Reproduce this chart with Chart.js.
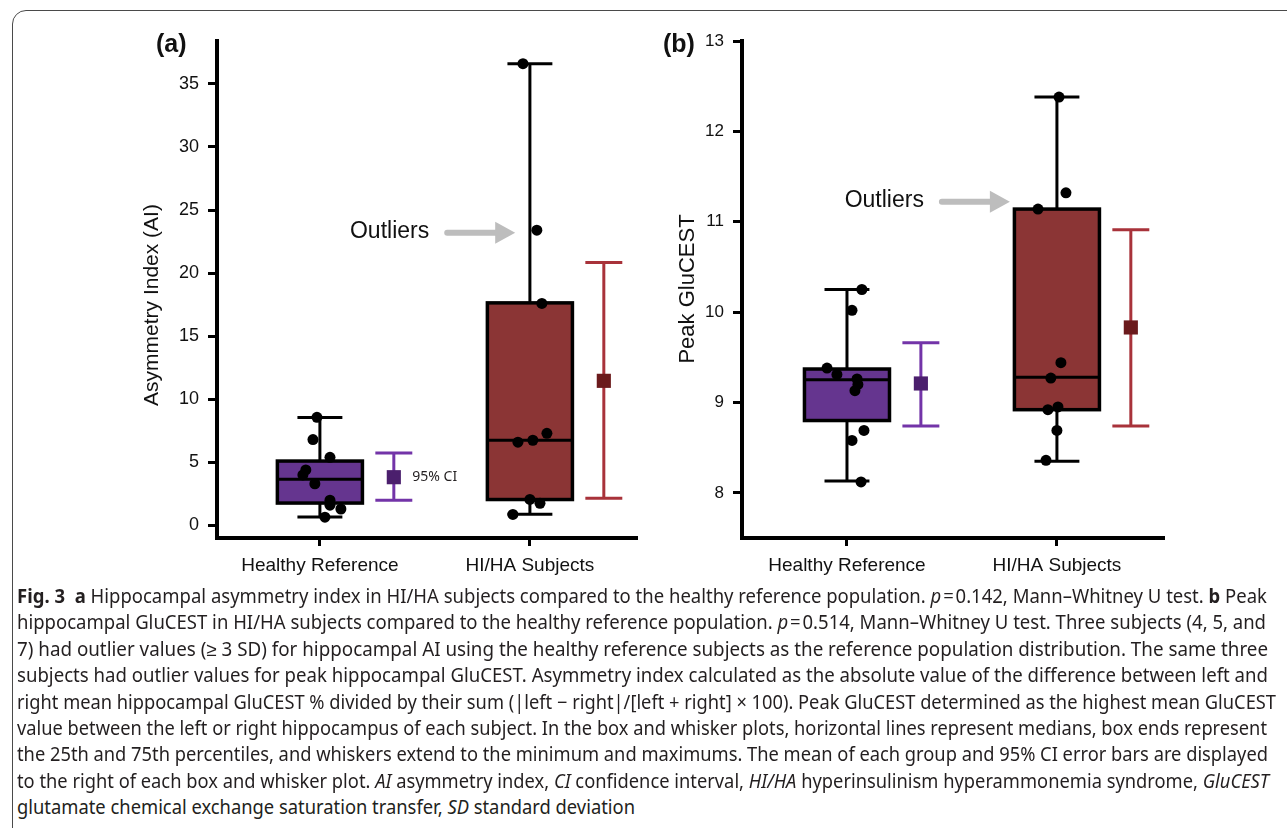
<!DOCTYPE html>
<html>
<head>
<meta charset="utf-8">
<script src="https://cdn.jsdelivr.net/npm/chart.js@4.4.1/dist/chart.umd.min.js"></script>
<style>
  html, body { margin: 0; padding: 0; background: #fff; }
  body { width: 1287px; height: 828px; position: relative; overflow: hidden; }
  .frame { position: absolute; left: 12px; top: 10px; width: 1320px; height: 860px;
           border: 1.5px solid #4a4a4a; border-radius: 14px; }
  canvas { position: absolute; top: 0; }
  #chartA { left: 0; }
  #chartB { left: 650px; }
  .cap { position: absolute; left: 17px; white-space: nowrap; font-family: 'Noto Sans', sans-serif;
         font-size: 19px; line-height: 24px; color: #231f20; transform-origin: 0 0; }
  .cap b { font-weight: 700; }
</style>
</head>
<body>
<div class="frame"></div>
<canvas id="chartA" width="650" height="590"></canvas>
<canvas id="chartB" width="637" height="590"></canvas>

<div class="cap" style="top:584px" data-end="1267"><b>Fig. 3</b>&nbsp; <b>a</b> Hippocampal asymmetry index in HI/HA subjects compared to the healthy reference population. <i>p</i>&#8202;=&#8202;0.142, Mann–Whitney U test. <b>b</b> Peak</div>
<div class="cap" style="top:610px" data-end="1266">hippocampal GluCEST in HI/HA subjects compared to the healthy reference population. <i>p</i>&#8202;=&#8202;0.514, Mann–Whitney U test. Three subjects (4, 5, and</div>
<div class="cap" style="top:637px" data-end="1268">7) had outlier values (≥ 3 SD) for hippocampal AI using the healthy reference subjects as the reference population distribution. The same three</div>
<div class="cap" style="top:663px" data-end="1268">subjects had outlier values for peak hippocampal GluCEST. Asymmetry index calculated as the absolute value of the difference between left and</div>
<div class="cap" style="top:690px" data-end="1276">right mean hippocampal GluCEST % divided by their sum (|left − right|/[left + right] × 100). Peak GluCEST determined as the highest mean GluCEST</div>
<div class="cap" style="top:716px" data-end="1267">value between the left or right hippocampus of each subject. In the box and whisker plots, horizontal lines represent medians, box ends represent</div>
<div class="cap" style="top:742px" data-end="1268">the 25th and 75th percentiles, and whiskers extend to the minimum and maximums. The mean of each group and 95% CI error bars are displayed</div>
<div class="cap" style="top:769px" data-end="1269">to the right of each box and whisker plot. <i>AI</i> asymmetry index, <i>CI</i> confidence interval, <i>HI/HA</i> hyperinsulinism hyperammonemia syndrome, <i>GluCEST</i></div>
<div class="cap" style="top:795px" data-end="635">glutamate chemical exchange saturation transfer, <i>SD</i> standard deviation</div>

<script>
const groups = ['Healthy Reference', 'HI/HA Subjects'];

// (a) asymmetry index
const aiTicks = [0, 5, 10, 15, 20, 25, 30, 35];
const aiHealthy = [8.57, 6.8, 5.4, 4.4, 4.0, 3.3, 2.0, 1.6, 1.3, 0.65];
const aiHealthyJitter = [-0.014, -0.033, 0.048, -0.067, -0.081, -0.024, 0.048, 0.048, 0.1, 0.024];
const aiHiha = [36.6, 23.4, 17.6, 7.3, 6.75, 6.6, 2.06, 1.75, 0.87];
const aiHihaJitter = [-0.033, 0.033, 0.057, 0.081, 0.014, -0.057, 0, 0.048, -0.081];
const aiMin = [0.66, 0.88];
const aiQ1 = [1.77, 2.05];
const aiMedian = [3.65, 6.75];
const aiQ3 = [5.1, 17.64];
const aiMax = [8.55, 36.6];
const aiMean = [3.82, 11.46];
const aiCiLow = [1.99, 2.15];
const aiCiHigh = [5.73, 20.84];

// (b) peak GluCEST
const gcTicks = [8, 9, 10, 11, 12, 13];
const gcHealthy = [10.25, 10.02, 9.38, 9.31, 9.26, 9.2, 9.13, 8.69, 8.58, 8.12];
const gcHealthyJitter = [0.071, 0.024, -0.095, -0.048, 0.048, 0.052, 0.038, 0.081, 0.024, 0.067];
const gcHiha = [12.38, 11.32, 11.14, 9.44, 9.27, 8.95, 8.92, 8.69, 8.36];
const gcHihaJitter = [0.01, 0.043, -0.09, 0.019, -0.029, 0.005, -0.043, 0, -0.052];
const gcMin = [8.13, 8.35];
const gcQ1 = [8.8, 8.92];
const gcMedian = [9.25, 9.28];
const gcQ3 = [9.37, 11.14];
const gcMax = [10.25, 12.38];
const gcMean = [9.21, 9.83];
const gcCiLow = [8.74, 8.74];
const gcCiHigh = [9.66, 10.91];

// look
const boxFill = ['#65358f', '#8b3535'];
const meanColor = ['#4b1f6d', '#6b1a1c'];
const ciColor = ['#7334a8', '#a8323a'];
const BOX_HALF = 0.2025;
const CAP_HALF = 0.107;
const MEAN_OFFSET = 0.352;
const CI_CAP_HALF = 0.088;
const AXIS_FONT = 'Liberation Sans, Arial, sans-serif';

function seg(ctx, x1, y1, x2, y2) {
    ctx.beginPath();
    ctx.moveTo(x1, y1);
    ctx.lineTo(x2, y2);
    ctx.stroke();
}

// box, whiskers and CI bars, placed with the chart's own scales
function boxPlugin(s) {
    return {
        id: 'boxWhisker',
        beforeDatasetsDraw(chart) {
            const { ctx, scales: { x, y } } = chart;
            ctx.save();
            for (let i = 0; i < 2; i++) {
                const xc = x.getPixelForValue(i);
                const bw = x.getPixelForValue(i + BOX_HALF) - xc;
                const cw = x.getPixelForValue(i + CAP_HALF) - xc;
                const yMin = y.getPixelForValue(s.min[i]);
                const yMax = y.getPixelForValue(s.max[i]);
                ctx.strokeStyle = '#000';
                ctx.lineWidth = 3;
                seg(ctx, xc, yMin, xc, yMax);
                seg(ctx, xc - cw, yMin, xc + cw, yMin);
                seg(ctx, xc - cw, yMax, xc + cw, yMax);

                const top = y.getPixelForValue(s.q3[i]);
                const bot = y.getPixelForValue(s.q1[i]);
                ctx.fillStyle = boxFill[i];
                ctx.fillRect(xc - bw, top, 2 * bw, bot - top);
                ctx.lineWidth = 3.5;
                ctx.strokeRect(xc - bw, top, 2 * bw, bot - top);
                const ym = y.getPixelForValue(s.median[i]);
                ctx.lineWidth = 3;
                seg(ctx, xc - bw, ym, xc + bw, ym);

                // 95% CI
                const xm = x.getPixelForValue(i + MEAN_OFFSET);
                const ciw = x.getPixelForValue(i + MEAN_OFFSET + CI_CAP_HALF) - xm;
                const yLo = y.getPixelForValue(s.ciLow[i]);
                const yHi = y.getPixelForValue(s.ciHigh[i]);
                ctx.strokeStyle = ciColor[i];
                ctx.lineWidth = 3;
                seg(ctx, xm, yLo, xm, yHi);
                seg(ctx, xm - ciw, yLo, xm + ciw, yLo);
                seg(ctx, xm - ciw, yHi, xm + ciw, yHi);
            }
            ctx.restore();
        }
    };
}

// axis title, panel letter, "Outliers" arrow, CI note
function notePlugin(n) {
    return {
        id: 'notes',
        afterDraw(chart) {
            const { ctx, scales: { x, y } } = chart;
            ctx.save();
            ctx.fillStyle = '#111';
            ctx.textBaseline = 'middle';

            // y title
            ctx.save();
            ctx.translate(n.titleX, n.titleY);
            ctx.rotate(-Math.PI / 2);
            ctx.textAlign = 'center';
            ctx.font = n.titleSize + 'px ' + AXIS_FONT;
            ctx.fillText(n.title, 0, 0);
            ctx.restore();

            // panel letter
            ctx.textAlign = 'left';
            ctx.font = 'bold 25px ' + AXIS_FONT;
            ctx.fillText(n.letter, n.letterX, n.letterY);

            // arrow
            const tx = x.getPixelForValue(n.arrowX);
            const ty = y.getPixelForValue(n.arrowY);
            const len = 68, head = 20, hh = 11;
            ctx.strokeStyle = '#bdbdbd';
            ctx.fillStyle = '#bdbdbd';
            ctx.lineWidth = 6;
            ctx.lineCap = 'round';
            seg(ctx, tx - len, ty, tx - head + 2, ty);
            ctx.beginPath();
            ctx.moveTo(tx, ty);
            ctx.lineTo(tx - head, ty - hh);
            ctx.lineTo(tx - head, ty + hh);
            ctx.closePath();
            ctx.fill();

            ctx.fillStyle = '#111';
            ctx.textAlign = 'right';
            ctx.font = '23px ' + AXIS_FONT;
            ctx.fillText('Outliers', tx - len - 18, ty - 1);

            if (n.ciNote) {
                const xm = x.getPixelForValue(MEAN_OFFSET + CI_CAP_HALF);
                ctx.textAlign = 'left';
                ctx.font = '14px "Noto Sans", sans-serif';
                ctx.fillStyle = '#231f20';
                ctx.fillText(n.ciNote, xm + 0, y.getPixelForValue(aiMean[0]));
            }
            ctx.restore();
        }
    };
}

function pointsFrom(values, jitter, group) {
    return values.map((v, k) => ({ x: group + jitter[k], y: v }));
}

function makeChart(id, p) {
    const datasets = [
        {
            data: pointsFrom(p.healthy, p.healthyJitter, 0).concat(pointsFrom(p.hiha, p.hihaJitter, 1)),
            pointRadius: 5.5,
            pointBackgroundColor: '#000',
            pointBorderWidth: 0
        },
        {
            data: p.mean.map((v, i) => ({ x: i + MEAN_OFFSET, y: v })),
            pointStyle: 'rect',
            pointRadius: 10,
            pointBackgroundColor: meanColor,
            pointBorderWidth: 0
        }
    ];

    return new Chart(document.getElementById(id), {
        type: 'scatter',
        data: { datasets: datasets },
        options: {
            responsive: false,
            animation: false,
            events: [],
            layout: { padding: { top: 41, right: p.padRight, left: 0, bottom: 0 } },
            plugins: { legend: { display: false }, tooltip: { enabled: false } },
            scales: {
                x: {
                    type: 'linear',
                    min: p.xMin,
                    max: 1.51,
                    afterBuildTicks: (scale) => { scale.ticks = [{ value: 0 }, { value: 1 }]; },
                    afterFit: (scale) => { scale.height = 52; },
                    ticks: {
                        callback: (v, i) => groups[i],
                        color: '#111',
                        padding: 8,
                        maxRotation: 0,
                        font: { family: AXIS_FONT, size: 19 }
                    },
                    grid: { drawOnChartArea: false, color: '#000', tickLength: 8, tickWidth: 3 },
                    border: { display: true, color: '#000', width: 4 }
                },
                y: {
                    min: p.yMin,
                    max: p.yMax,
                    afterBuildTicks: (scale) => { scale.ticks = p.ticks.map(v => ({ value: v })); },
                    afterFit: (scale) => { scale.width = p.yWidth; },
                    ticks: {
                        color: '#111',
                        padding: 9,
                        font: { family: AXIS_FONT, size: p.tickSize }
                    },
                    grid: { drawOnChartArea: false, color: '#000', tickLength: 9, tickWidth: 3 },
                    border: { display: true, color: '#000', width: 4 }
                }
            }
        },
        plugins: [boxPlugin(p.stats), notePlugin(p.notes)]
    });
}

makeChart('chartA', {
    healthy: aiHealthy, healthyJitter: aiHealthyJitter,
    hiha: aiHiha, hihaJitter: aiHihaJitter,
    mean: aiMean, ticks: aiTicks,
    stats: { min: aiMin, q1: aiQ1, median: aiMedian, q3: aiQ3, max: aiMax, ciLow: aiCiLow, ciHigh: aiCiHigh },
    xMin: -0.49, yMin: -1, yMax: 38.4, yWidth: 217, padRight: 13, tickSize: 18,
    notes: { title: 'Asymmetry Index (AI)', titleX: 152, titleY: 305, titleSize: 21,
             letter: '(a)', letterX: 156, letterY: 45,
             arrowX: 0.93, arrowY: 23.2, ciNote: '95% CI' }
});

makeChart('chartB', {
    healthy: gcHealthy, healthyJitter: gcHealthyJitter,
    hiha: gcHiha, hihaJitter: gcHihaJitter,
    mean: gcMean, ticks: gcTicks,
    stats: { min: gcMin, q1: gcQ1, median: gcMedian, q3: gcQ3, max: gcMax, ciLow: gcCiLow, ciHigh: gcCiHigh },
    xMin: -0.5, yMin: 7.5, yMax: 13, yWidth: 92, padRight: 123, tickSize: 17,
    notes: { title: 'Peak GluCEST', titleX: 38, titleY: 289, titleSize: 22,
             letter: '(b)', letterX: 13, letterY: 45,
             arrowX: 0.776, arrowY: 11.22, ciNote: null }
});

// squeeze each caption line to the width it has in the figure
document.querySelectorAll('.cap').forEach(function (el) {
    const w = el.getBoundingClientRect().width;
    const target = parseFloat(el.dataset.end) - 17;
    el.style.transform = 'scaleX(' + (target / w) + ')';
});
</script>
</body>
</html>
